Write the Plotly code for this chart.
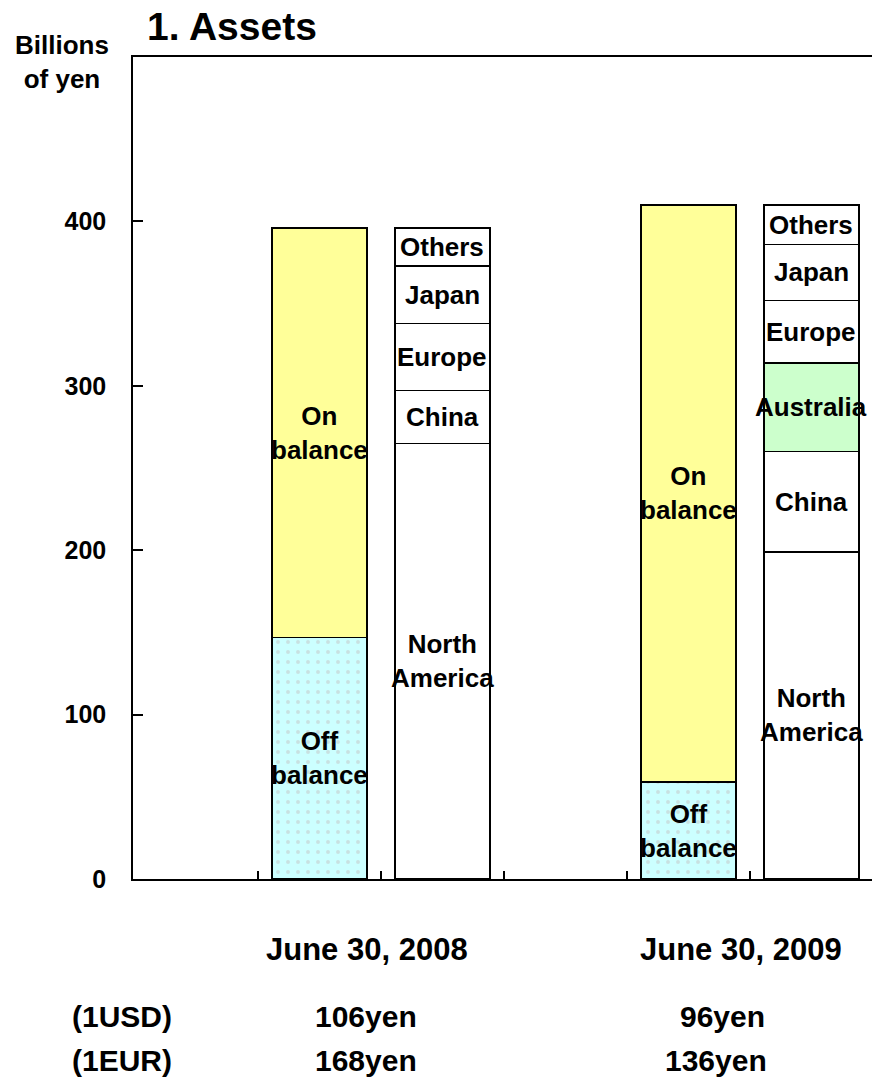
import plotly.graph_objects as go

# Balance-sheet split (billions of yen)
dates = ["June 30, 2008", "June 30, 2009"]
off_balance = [147, 59]
on_balance = [249, 351]

# Regional split (billions of yen), bottom to top
north_america = [265, 199]
china = [32, 61]
australia = [None, 54]
europe = [41, 38]
japan = [35, 34]
others = [23, 24]

usd_rate = ["106yen", "96yen"]
eur_rate = ["168yen", "136yen"]

# slot positions on the x axis
pos_balance = [1, 4]
pos_region = [2, 5]

W, H = 872, 1080
L, R, T, B = 133, 0, 57, 201
FONT = "Liberation Sans, Arial, sans-serif"
BAR_W = 0.77
EDGE = dict(color="black", width=1.5)

fig = go.Figure()

fig.add_bar(x=pos_balance, y=off_balance, width=BAR_W, name="Off balance",
            marker=dict(color="#CCFFFF", line=EDGE,
                        pattern=dict(shape=".", fgcolor="#c4c4c4", size=10, solidity=0.12)))
fig.add_bar(x=pos_balance, y=on_balance, width=BAR_W, name="On balance",
            marker=dict(color="#FFFF99", line=EDGE))

region_series = [
    ("North<br>America", north_america, "white"),
    ("China", china, "white"),
    ("Australia", australia, "#CCFFCC"),
    ("Europe", europe, "white"),
    ("Japan", japan, "white"),
    ("Others", others, "white"),
]
for name, vals, col in region_series:
    xs = [p for p, v in zip(pos_region, vals) if v is not None]
    ys = [v for v in vals if v is not None]
    fig.add_bar(x=xs, y=ys, width=BAR_W, name=name, marker=dict(color=col, line=EDGE))

annotations = []
label_font = dict(family=FONT, size=26, color="black", weight="bold")


def seg_labels(positions, series):
    base = [0.0] * len(positions)
    for name, vals in series:
        for i, (p, v) in enumerate(zip(positions, vals)):
            if v is None:
                continue
            annotations.append(dict(x=p, y=base[i] + v / 2, xref="x", yref="y", text=name,
                                    showarrow=False, font=label_font))
            base[i] += v


seg_labels(pos_balance, [("Off<br>balance", off_balance), ("On<br>balance", on_balance)])
seg_labels(pos_region, [(n, v) for n, v, _ in region_series])


def px_x(px):
    return (px - L) / (W - L - R)


def px_y(py):
    return (H - B - py) / (H - T - B)


def add_text(text, x, y, size, xanchor="center"):
    annotations.append(dict(x=px_x(x), y=px_y(y), xref="paper", yref="paper", text=text,
                            showarrow=False, xanchor=xanchor, yanchor="middle",
                            font=dict(family=FONT, size=size, color="black", weight="bold")))


add_text("1. Assets", 145, 27, 39, xanchor="left")
add_text("Billions<br>of yen", 62, 62, 26)
for d, cx in zip(dates, [367, 741]):
    add_text(d, cx, 949, 31)
add_text("(1USD)", 122, 1017, 30)
add_text("(1EUR)", 122, 1060, 30)
for u, e, cu, ce in zip(usd_rate, eur_rate, [366, 722], [366, 716]):
    add_text(u, cu, 1017, 30)
    add_text(e, ce, 1060, 30)

fig.update_layout(
    width=W, height=H,
    margin=dict(l=L, r=R, t=T, b=B),
    barmode="stack",
    showlegend=False,
    plot_bgcolor="white",
    paper_bgcolor="white",
    annotations=annotations,
    xaxis=dict(range=[-0.516, 5.492], tickvals=[0.5, 1.5, 2.5, 3.5, 4.5], showticklabels=False,
               ticks="inside", ticklen=8, tickwidth=1.5, tickcolor="black",
               showline=True, linecolor="black", linewidth=1.5, mirror=True,
               showgrid=False, zeroline=False),
    yaxis=dict(range=[0, 500], tickvals=[0, 100, 200, 300, 400],
               ticks="inside", ticklen=10, tickwidth=1.5, tickcolor="black",
               showline=True, linecolor="black", linewidth=1.5,
               showgrid=False, zeroline=False, ticklabelstandoff=20,
               tickfont=dict(family=FONT, size=25, color="black", weight="bold")),
)

fig.write_html("out.html")
